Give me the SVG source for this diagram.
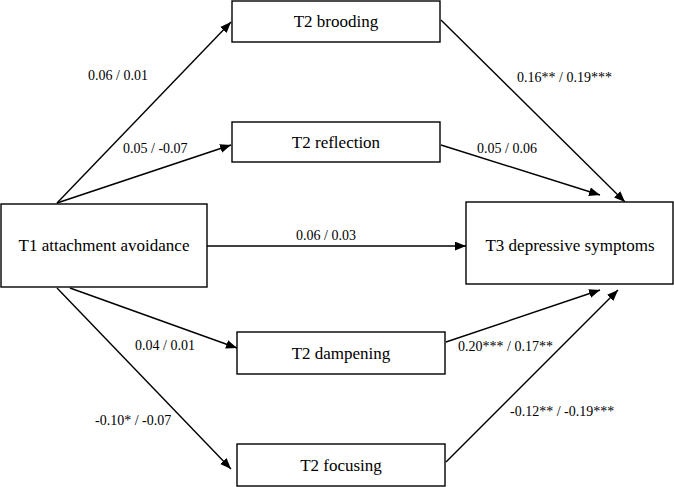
<svg xmlns="http://www.w3.org/2000/svg" width="674" height="487" viewBox="0 0 674 487">
<style>
.box{fill:#fff;stroke:#000;stroke-width:1.4}
.nt{font-family:"Liberation Serif","Times New Roman",serif;font-size:17px;fill:#000;text-anchor:middle}
.el{font-family:"Liberation Serif","Times New Roman",serif;font-size:14px;fill:#000}
.ed{fill:none;stroke:#000;stroke-width:1.4;marker-end:url(#ah)}
</style>
<defs>
<marker id="ah" viewBox="0 0 10 8" refX="10" refY="4" markerWidth="11" markerHeight="9" markerUnits="userSpaceOnUse" orient="auto">
<path d="M0,0 L10,4 L0,8 z" fill="#000"/>
</marker>
</defs>
<rect width="674" height="487" fill="#fff"/>
<g id="connectors">
<line class="ed" x1="57" y1="203" x2="231" y2="22"/>
<line class="ed" x1="57" y1="203" x2="231" y2="145"/>
<line class="ed" x1="207" y1="246" x2="466" y2="246"/>
<line class="ed" x1="70" y1="288" x2="237" y2="348"/>
<line class="ed" x1="57" y1="288" x2="231" y2="469"/>
<line class="ed" x1="441" y1="20" x2="625" y2="202"/>
<line class="ed" x1="441" y1="145" x2="600" y2="195"/>
<line class="ed" x1="446" y1="342" x2="600" y2="290"/>
<line class="ed" x1="446" y1="462" x2="618" y2="290"/>
<text class="el" x="88" y="80">0.06 / 0.01</text>
<text class="el" x="123" y="153">0.05 / -0.07</text>
<text class="el" x="296" y="240">0.06 / 0.03</text>
<text class="el" x="517" y="82">0.16** / 0.19***</text>
<text class="el" x="477" y="153">0.05 / 0.06</text>
<text class="el" x="135" y="350">0.04 / 0.01</text>
<text class="el" x="95" y="425">-0.10* / -0.07</text>
<text class="el" x="458" y="351">0.20*** / 0.17**</text>
<text class="el" x="510" y="416">-0.12** / -0.19***</text>
</g>
<g id="t1">
<rect class="box" x="1" y="204" width="206" height="83"/>
<text class="nt" x="104" y="251">T1 attachment avoidance</text>
</g>
<g id="brooding">
<rect class="box" x="232" y="1" width="208" height="41"/>
<text class="nt" x="336" y="27">T2 brooding</text>
</g>
<g id="reflection">
<rect class="box" x="232" y="122" width="208" height="40"/>
<text class="nt" x="336" y="148">T2 reflection</text>
</g>
<g id="dampening">
<rect class="box" x="237" y="332" width="208" height="42"/>
<text class="nt" x="341" y="359">T2 dampening</text>
</g>
<g id="focusing">
<rect class="box" x="237" y="444" width="208" height="42"/>
<text class="nt" x="341" y="471">T2 focusing</text>
</g>
<g id="t3">
<rect class="box" x="466" y="202" width="207" height="82"/>
<text class="nt" x="570" y="251">T3 depressive symptoms</text>
</g>
</svg>
